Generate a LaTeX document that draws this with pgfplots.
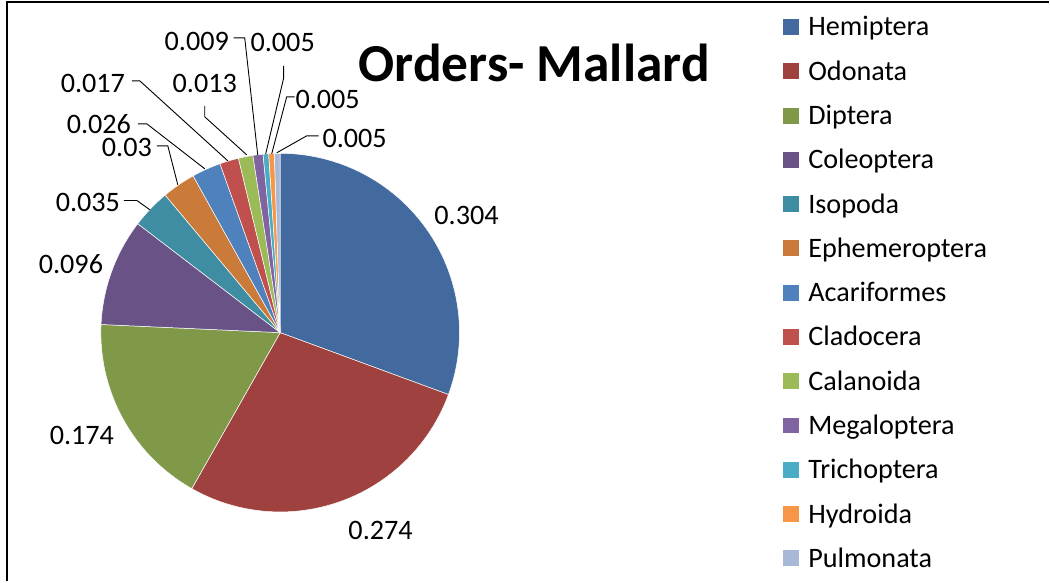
\documentclass[border=0pt]{standalone}
\usepackage{fontspec}
\setmainfont{Carlito}
\usepackage{pgfplots}
\usepackage{pgfplotstable}
\pgfplotsset{compat=1.18}

\definecolor{cHem}{RGB}{66,106,158}
\definecolor{cOdo}{RGB}{159,65,62}
\definecolor{cDip}{RGB}{127,153,73}
\definecolor{cCol}{RGB}{105,82,133}
\definecolor{cIso}{RGB}{62,141,162}
\definecolor{cEph}{RGB}{203,123,57}
\definecolor{cAca}{RGB}{79,129,189}
\definecolor{cCla}{RGB}{192,80,77}
\definecolor{cCal}{RGB}{155,187,89}
\definecolor{cMeg}{RGB}{128,100,162}
\definecolor{cTri}{RGB}{75,172,198}
\definecolor{cHyd}{RGB}{247,150,70}
\definecolor{cPul}{RGB}{167,185,215}

% share of each order; lx/ly = label baseline position (px from top left)
\pgfplotstableread{
name          value col  lx  ly
Hemiptera     0.304 cHem 467 225
Odonata       0.274 cOdo 381 540
Diptera       0.174 cDip 82  445
Coleoptera    0.096 cCol 71  274
Isopoda       0.035 cIso 88  212
Ephemeroptera 0.03  cEph 127 157
Acariformes   0.026 cAca 99  134
Cladocera     0.017 cCla 93  93
Calanoida     0.013 cCal 205 93
Megaloptera   0.009 cMeg 197 51
Trichoptera   0.005 cTri 283 52
Hydroida      0.005 cHyd 328 109
Pulmonata     0.005 cPul 355 148
}\orders

\begin{document}
\begin{tikzpicture}
\begin{axis}[
    x=1bp, y=1bp,
    xmin=0, xmax=1050, ymin=-582, ymax=0,
    hide axis, clip=false,
]
\pgfplotsextra{
  \path (axis cs:0,0) (axis cs:1050,-582);
  % frame
  \draw[line width=2.3bp, black] (axis cs:7,-582) -- (axis cs:7,-2) -- (axis cs:1050,-2);
  \pgfplotstablegetrowsof{\orders}
  \pgfmathtruncatemacro{\nrows}{\pgfplotsretval-1}
  \gdef\total{0}
  \foreach \i in {0,...,\nrows}{
    \pgfplotstablegetelem{\i}{value}\of\orders
    \pgfmathsetmacro{\t}{\total+\pgfplotsretval}
    \xdef\total{\t}
  }
  \gdef\startang{90}
  \foreach \i in {0,...,\nrows}{
    \pgfplotstablegetelem{\i}{value}\of\orders \let\v\pgfplotsretval
    \pgfplotstablegetelem{\i}{col}\of\orders \edef\c{\pgfplotsretval}
    \pgfplotstablegetelem{\i}{name}\of\orders \let\n\pgfplotsretval
    \pgfplotstablegetelem{\i}{lx}\of\orders \let\lx\pgfplotsretval
    \pgfplotstablegetelem{\i}{ly}\of\orders \let\ly\pgfplotsretval
    \pgfmathsetmacro{\endang}{\startang-\v/\total*360}
    \fill[\c, draw=white, line width=0.5bp] (axis cs:280.5,-333) -- ++(\startang:179.5bp)
      arc[start angle=\startang, end angle=\endang, radius=179.5bp] -- cycle;
    \xdef\startang{\endang}
    \node[anchor=base, inner sep=0pt, font=\fontsize{28.3}{28.3}\selectfont] at (axis cs:\lx,-\ly) {\v};
    % legend entry
    \pgfmathsetmacro{\ytop}{-(19+44.33*\i)}
    \pgfmathsetmacro{\ybot}{-(35+44.33*\i)}
    \pgfmathsetmacro{\ybase}{-(36+44.33*\i)}
    \fill[\c] (axis cs:784,\ytop) rectangle (axis cs:800,\ybot);
    \node[anchor=base west, inner sep=0pt, font=\fontsize{28.3}{28.3}\selectfont] at (axis cs:809,\ybase) {\n};
  }
  % leader lines
  \begin{scope}[line width=0.9bp, black]
    \draw (axis cs:124,-200.7) -- (axis cs:137,-200.7) -- (axis cs:150,-210);
    \draw (axis cs:157,-146) -- (axis cs:168,-146) -- (axis cs:178,-185);
    \draw (axis cs:138,-124) -- (axis cs:147,-124) -- (axis cs:205,-169);
    \draw (axis cs:132,-81) -- (axis cs:140,-81) -- (axis cs:228,-161);
    \draw (axis cs:205,-106) -- (axis cs:205,-117) -- (axis cs:247,-155);
    \draw (axis cs:234,-38) -- (axis cs:245,-38) -- (axis cs:258,-155);
    \draw (axis cs:284,-66) -- (axis cs:284,-78) -- (axis cs:266,-154);
    \draw (axis cs:295,-97) -- (axis cs:287,-97) -- (axis cs:272,-154);
    \draw (axis cs:319,-136) -- (axis cs:307,-136) -- (axis cs:277,-153);
  \end{scope}
  % title
  \node[anchor=base west, inner sep=0pt, font=\fontsize{53.7}{53.7}\selectfont\bfseries] at (axis cs:359,-82) {Orders- Mallard};
}
\end{axis}
\end{tikzpicture}
\end{document}
